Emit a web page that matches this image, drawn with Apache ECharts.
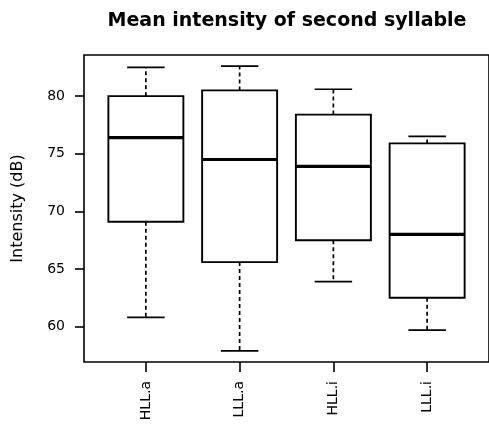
<!DOCTYPE html>
<html>
<head>
<meta charset="utf-8">
<script src="https://cdn.jsdelivr.net/npm/echarts@6/dist/echarts.min.js"></script>
<style>
html,body{margin:0;padding:0;background:#fff;}
#main{width:489px;height:426px;}
</style>
</head>
<body>
<div id="main"></div>
<script>
var categories = ['HLL.a', 'LLL.a', 'HLL.i', 'LLL.i'];
var positions = [1, 2, 3, 4];
var mins    = [60.8, 57.9, 63.9, 59.7];
var q1s     = [69.1, 65.6, 67.5, 62.5];
var medians = [76.4, 74.5, 73.9, 68.0];
var q3s     = [80.0, 80.5, 78.4, 75.9];
var maxs    = [82.5, 82.6, 80.6, 76.5];
var yTicks  = [60, 65, 70, 75, 80];

var boxData = positions.map(function (p, i) {
  return [p, mins[i], q1s[i], medians[i], q3s[i], maxs[i]];
});

var FONT = '"DejaVu Sans", "Liberation Sans", Arial, sans-serif';
var chart = echarts.init(document.getElementById('main'), null, {renderer: 'canvas'});

chart.setOption({
  animation: false,
  backgroundColor: '#fff',
  title: {
    text: 'Mean intensity of second syllable',
    left: 282, top: 7, textAlign: 'center',
    textStyle: {fontFamily: FONT, fontWeight: 'bold', fontSize: 19, color: '#000'}
  },
  grid: {left: 84, right: -2, top: 55, bottom: 64, show: true, borderColor: '#000', borderWidth: 1.6, backgroundColor: 'transparent'},
  xAxis: {
    type: 'value', min: 0.34, max: 4.66,
    splitLine: {show: false},
    axisLine: {show: false},
    axisTick: {show: true, length: 10, lineStyle: {color: '#000', width: 1.6}, customValues: positions},
    axisLabel: {
      customValues: positions, rotate: 90, margin: 19,
      fontFamily: FONT, fontSize: 14, color: '#000',
      formatter: function (v) { return categories[Math.round(v) - 1] || ''; }
    }
  },
  yAxis: {
    type: 'value', min: 56.93, max: 83.57,
    name: 'Intensity (dB)', nameLocation: 'middle', nameGap: 58,
    nameTextStyle: {fontFamily: FONT, fontSize: 16, color: '#000'},
    splitLine: {show: false},
    axisLine: {show: false},
    axisTick: {show: true, length: 9, lineStyle: {color: '#000', width: 1.6}, customValues: yTicks},
    axisLabel: {customValues: yTicks, margin: 19, fontFamily: FONT, fontSize: 14, color: '#000'}
  },
  series: [{
    type: 'custom',
    clip: false,
    data: boxData,
    encode: {x: 0, y: [1, 2, 3, 4, 5]},
    renderItem: function (params, api) {
      var x = api.value(0);
      var pMin = api.coord([x, api.value(1)]);
      var pQ1 = api.coord([x, api.value(2)]);
      var pMed = api.coord([x, api.value(3)]);
      var pQ3 = api.coord([x, api.value(4)]);
      var pMax = api.coord([x, api.value(5)]);
      var bw = api.size([0.8, 0])[0];
      var cw = bw / 2;
      var cx = pMed[0];
      var dash = {stroke: '#000', lineWidth: 1.7, lineDash: [4, 3]};
      var solid = {stroke: '#000', lineWidth: 1.7};
      return {
        type: 'group',
        children: [
          {type: 'line', shape: {x1: cx, y1: pQ3[1], x2: cx, y2: pMax[1]}, style: dash},
          {type: 'line', shape: {x1: cx, y1: pQ1[1], x2: cx, y2: pMin[1]}, style: dash},
          {type: 'line', shape: {x1: cx - cw / 2, y1: pMax[1], x2: cx + cw / 2, y2: pMax[1]}, style: solid},
          {type: 'line', shape: {x1: cx - cw / 2, y1: pMin[1], x2: cx + cw / 2, y2: pMin[1]}, style: solid},
          {type: 'rect', shape: {x: cx - bw / 2, y: pQ3[1], width: bw, height: pQ1[1] - pQ3[1]}, style: {fill: '#fff', stroke: '#000', lineWidth: 1.9}},
          {type: 'line', shape: {x1: cx - bw / 2, y1: pMed[1], x2: cx + bw / 2, y2: pMed[1]}, style: {stroke: '#000', lineWidth: 3.2}}
        ]
      };
    }
  }]
});
</script>
</body>
</html>
